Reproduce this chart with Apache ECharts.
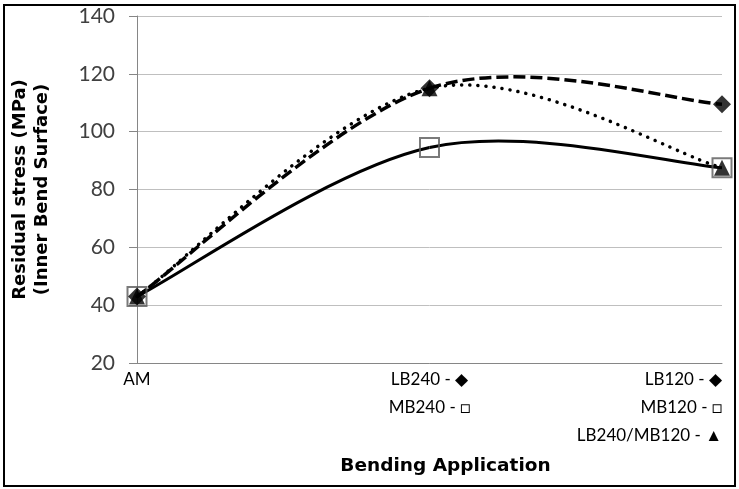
<html>
<head>
  <title>Residual stress vs bending application</title>
  <script src="https://cdn.jsdelivr.net/npm/echarts@6/dist/echarts.min.js"></script>
</head>
<body style="margin:0">
  <div id="chart" style="width: 739px;height:489px;"></div>
  <script>
    // categories along the x axis (multi-line tick labels)
    const categories = ['AM', 'LB240 - ◆\nMB240 - □', 'LB120 - ◆\nMB120 - □\nLB240/MB120 - ▲'];
    const labelAlign = ['center', 'center', 'right'];
    // residual stress values (MPa)
    const mbValues = [43, 94.5, 87.5];     // squares, solid line
    const lbValues = [43, 115, 109.5];     // diamonds, dashed line
    const mixValues = [43, 115, 87.5];     // triangles, dotted line
    const yTicks = { min: 20, max: 140, interval: 20 };

    const font = 'Lato, "Liberation Sans", sans-serif';
    const titleFont = '"DejaVu Sans", "Open Sans", sans-serif';
    const chart = echarts.init(document.getElementById('chart'));

    // excel-like smoothed line: catmull-rom segments turned into beziers
    function curve(values, lineStyle) {
      return {
        type: 'custom',
        data: values.map(function (v, i) { return [i, v]; }),
        encode: { x: 0, y: 1 },
        z: 2,
        silent: true,
        renderItem: function (params, api) {
          if (params.dataIndex !== 0) return null;
          const pts = values.map(function (v, i) { return api.coord([i, v]); });
          const n = pts.length;
          const children = [];
          for (let i = 0; i < n - 1; i++) {
            const p0 = pts[Math.max(i - 1, 0)], p1 = pts[i], p2 = pts[i + 1], p3 = pts[Math.min(i + 2, n - 1)];
            children.push({
              type: 'bezierCurve',
              shape: {
                x1: p1[0], y1: p1[1], x2: p2[0], y2: p2[1],
                cpx1: p1[0] + (p2[0] - p0[0]) / 6, cpy1: p1[1] + (p2[1] - p0[1]) / 6,
                cpx2: p2[0] - (p3[0] - p1[0]) / 6, cpy2: p2[1] - (p3[1] - p1[1]) / 6
              },
              style: Object.assign({ fill: null, stroke: '#000' }, lineStyle)
            });
          }
          return { type: 'group', children: children };
        }
      };
    }

    function markers(values, symbol, size, itemStyle) {
      return {
        type: 'scatter',
        data: values,
        symbol: symbol,
        symbolSize: size,
        z: 3,
        itemStyle: itemStyle
      };
    }

    const option = {
      animation: false,
      graphic: [{
        type: 'rect',
        shape: { x: 4, y: 5, width: 731, height: 481 },
        style: { fill: null, stroke: '#000', lineWidth: 2 },
        silent: true
      }],
      grid: { left: 137, right: 17, top: 16, bottom: 126 },
      xAxis: {
        type: 'category',
        boundaryGap: false,
        data: categories.map(function (c, i) {
          return { value: c, textStyle: { align: labelAlign[i] } };
        }),
        axisLine: { lineStyle: { color: '#868686', width: 1 } },
        axisTick: { show: false },
        axisLabel: {
          fontFamily: font, fontSize: 17, color: '#000',
          lineHeight: 28, margin: 3, interval: 0
        },
        name: 'Bending Application',
        nameLocation: 'middle',
        nameGap: 94,
        nameTextStyle: { fontFamily: titleFont, fontSize: 18.5, fontWeight: 'bold', color: '#000', padding: [0, 0, 0, 32] }
      },
      yAxis: {
        type: 'value',
        min: yTicks.min, max: yTicks.max, interval: yTicks.interval,
        axisLine: { show: true, lineStyle: { color: '#868686', width: 1 } },
        axisTick: { show: true, length: 8, lineStyle: { color: '#868686' } },
        axisLabel: { fontFamily: font, fontSize: 21, color: '#404040', margin: 22 },
        splitLine: { lineStyle: { color: '#bfbfbf', width: 1 } },
        name: 'Residual stress (MPa)\n(Inner Bend Surface)',
        nameLocation: 'middle',
        nameRotate: 90,
        nameGap: 84,
        nameTextStyle: { fontFamily: titleFont, fontSize: 18, fontWeight: 'bold', color: '#000', lineHeight: 22 }
      },
      series: [
        curve(mbValues, { lineWidth: 3 }),
        curve(lbValues, { lineWidth: 3.5, lineDash: [12, 5] }),
        curve(mixValues, { lineWidth: 3.5, lineDash: [0.1, 8], lineCap: 'round' }),
        markers(mbValues, 'rect', 19, { color: 'rgba(255,255,255,0)', borderColor: '#595959', borderWidth: 2 }),
        markers(lbValues, 'diamond', 18, { color: '#000' }),
        markers(mixValues, 'triangle', 16, { color: '#000' })
      ]
    };

    chart.setOption(option, true);
  </script>
</body>
</html>
